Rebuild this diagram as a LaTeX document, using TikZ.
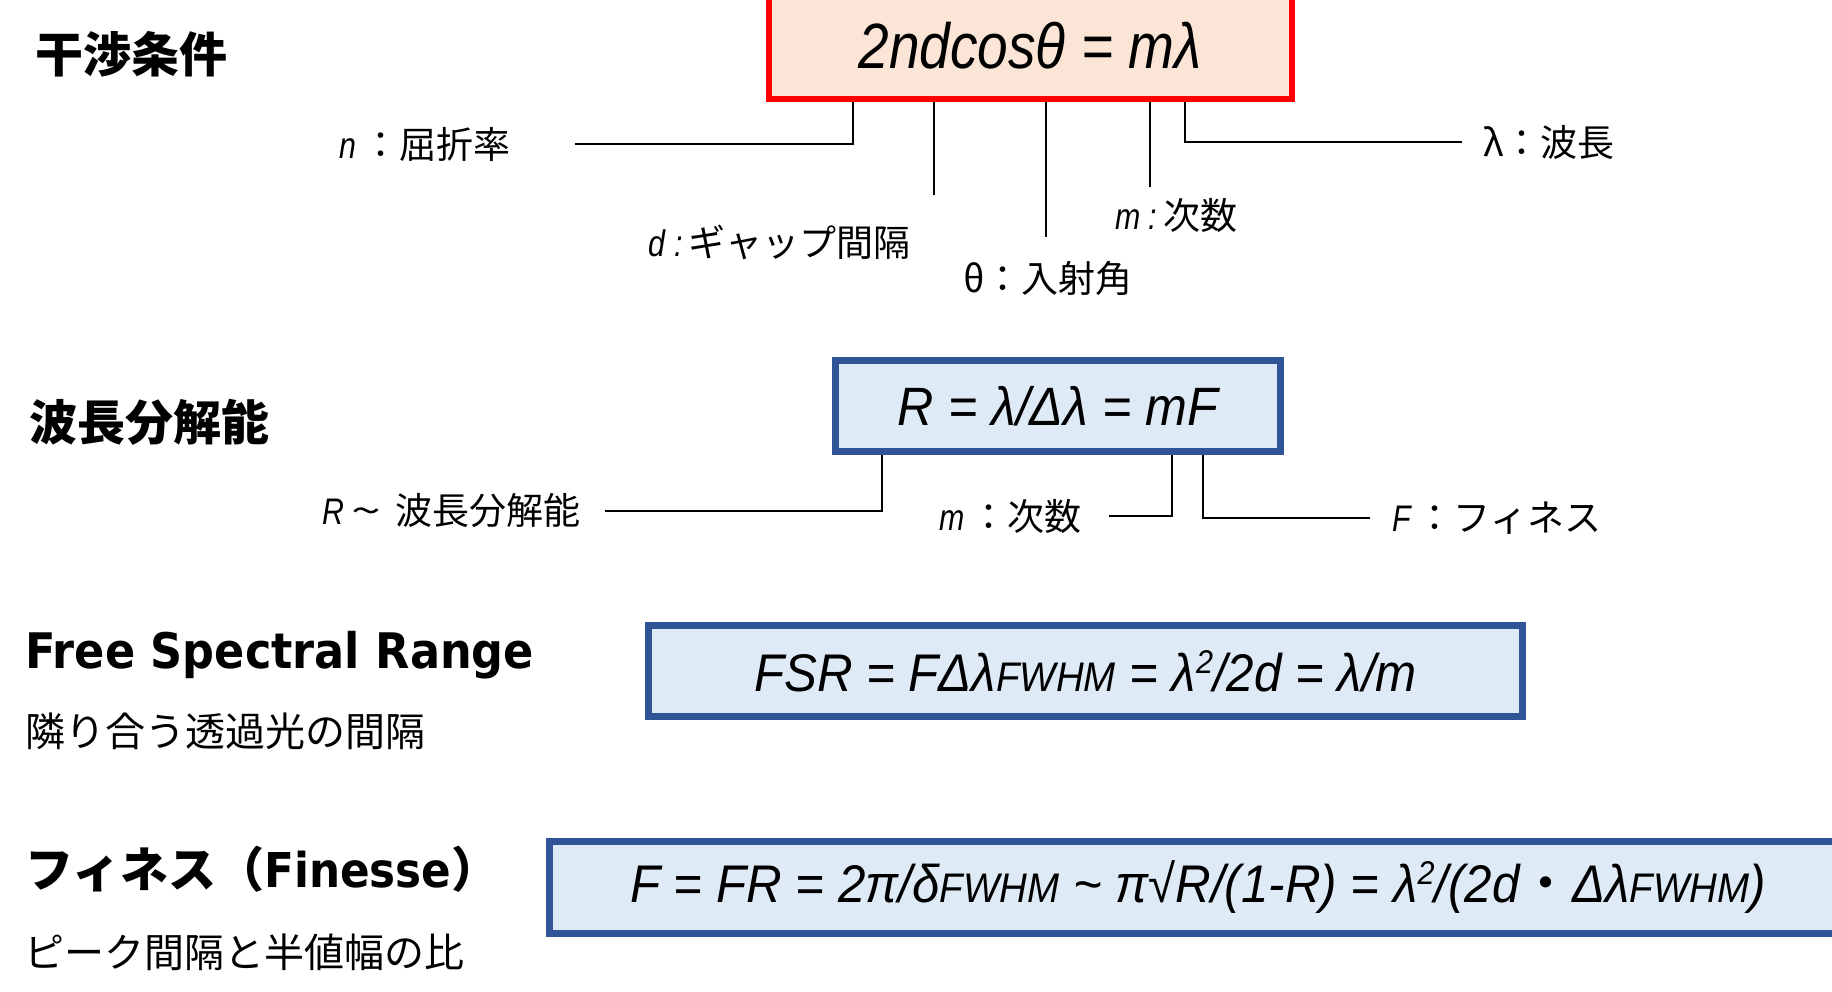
\documentclass[tikz,border=0pt]{standalone}
\usepackage{fontspec}
\setmainfont{Liberation Sans}
\newfontfamily\eqfont{Liberation Sans}[FakeStretch=0.82]
\newfontfamily\eqtop{Liberation Sans}[FakeStretch=0.86]
\newfontfamily\eqwide{Liberation Sans}[FakeStretch=0.93]
\newfontfamily\jpfont{Noto Sans CJK JP}
\newfontfamily\ttlfont{DejaVu Sans}[FakeStretch=0.91]
\definecolor{boxred}{HTML}{FF0000}
\definecolor{peach}{HTML}{FBE5D6}
\definecolor{boxblue}{HTML}{2F5597}
\definecolor{paleblue}{HTML}{DEEBF7}
\newcommand{\fwhm}{\scalebox{0.78}{FWHM}}
\newcommand{\sqr}{\raisebox{0.34em}{\scalebox{0.62}{2}}}
\newcommand{\iv}[1]{{\eqfont\itshape #1}}

\begin{document}
\begin{tikzpicture}[x=1pt,y=-1pt,
	eqred/.style={draw=boxred,fill=peach,line width=6pt,inner sep=0pt},
	eqblue/.style={draw=boxblue,fill=paleblue,line width=7pt,inner sep=0pt},
	lead/.style={line width=2.8pt}]
	\useasboundingbox (0,0) rectangle (1832,991);
	
	\begin{scope}[every node/.style={inner sep=0pt,font=\jpfont\bfseries\fontsize{48}{56}\selectfont}]
		\node[anchor=west] (interfttl) at (35,54) {干渉条件};
		\node[anchor=west] (resolttl) at (29,422) {波長分解能};
		\node[anchor=base west,font=\ttlfont\bfseries\fontsize{49}{56}\selectfont] (fsrttl) at (25,668) {Free Spectral Range};
		\node[anchor=base west] (finttl) at (25,887) {フィネス（{\ttlfont Finesse}）};
	\end{scope}
	
	\begin{scope}[every node/.style={anchor=west,inner sep=0pt,font=\jpfont\fontsize{40}{46}\selectfont}]
		\node (fsrsub) at (25,731) {隣り合う透過光の間隔};
		\node (finsub) at (24,952) {ピーク間隔と半値幅の比};
	\end{scope}
	
	\node[eqred,minimum width=523pt,minimum height=106pt,font=\eqtop\itshape\fontsize{64}{72}\selectfont]
		(interf) at (1030,46) {2ndcosθ = mλ};
	\node[eqblue,minimum width=445pt,minimum height=91pt,font=\eqwide\itshape\fontsize{54}{60}\selectfont]
		(resol) at (1058,406) {R = λ/Δλ = mF};
	\node[eqblue,minimum width=874pt,minimum height=91pt,font=\eqwide\itshape\fontsize{53}{60}\selectfont]
		(fsr) at (1085.5,671) {FSR = FΔλ\fwhm{} = λ\sqr/2d = λ/m};
	\node[eqblue,minimum width=1297pt,minimum height=92pt,font=\eqwide\itshape\fontsize{53}{60}\selectfont]
		(fin) at (1198,887.5) {F = FR = 2π/δ\fwhm{} \textasciitilde{} π√R/(1-R) = λ\sqr/(2d{\jpfont\upshape ・}Δλ\fwhm)};
	
	\begin{scope}[every node/.style={inner sep=0pt,font=\jpfont\fontsize{37}{44}\selectfont}]
		\node[anchor=east] (nlab) at (511,144) {\iv{n}\,：屈折率};
		\node[anchor=east] (dlab) at (911,242) {\iv{d\ :}\,ギャップ間隔};
		\node[anchor=west] (thlab) at (963,278) {θ：入射角};
		\node[anchor=west] (mlab) at (1115,215) {\iv{m\ :}\,次数};
		\node[anchor=west] (llab) at (1483,142) {λ：波長};
		\node[anchor=east] (rlab) at (581,511) {\iv{R}\hspace{7pt}\scalebox{1.45}[1]{\textasciitilde}\hspace{15pt}波長分解能};
		\node[anchor=east] (m2lab) at (1082,516) {\iv{m}\,：次数};
		\node[anchor=west] (flab) at (1392,518) {\iv{F}\,：フィネス};
	\end{scope}
	
	\coordinate (nx) at (853,0);
	\coordinate (dfoot) at (934,195);
	\coordinate (thfoot) at (1046,237);
	\coordinate (mfoot) at (1150,187);
	\coordinate (lx) at (1185,0);
	\draw[lead] (interf.south -| nx) |- ([xshift=64pt]nlab.east);
	\draw[lead] (interf.south -| dfoot) -- (dfoot);
	\draw[lead] (interf.south -| thfoot) -- (thfoot);
	\draw[lead] (interf.south -| mfoot) -- (mfoot);
	\draw[lead] (interf.south -| lx) |- ([xshift=-21pt]llab.west);
	
	\coordinate (rx) at (882,0);
	\coordinate (m2x) at (1172,0);
	\coordinate (fx) at (1203,0);
	\draw[lead] (resol.south -| rx) |- ([xshift=24pt]rlab.east);
	\draw[lead] (resol.south -| m2x) |- ([xshift=27pt]m2lab.east);
	\draw[lead] (resol.south -| fx) |- ([xshift=-22pt]flab.west);
\end{tikzpicture}
\end{document}
